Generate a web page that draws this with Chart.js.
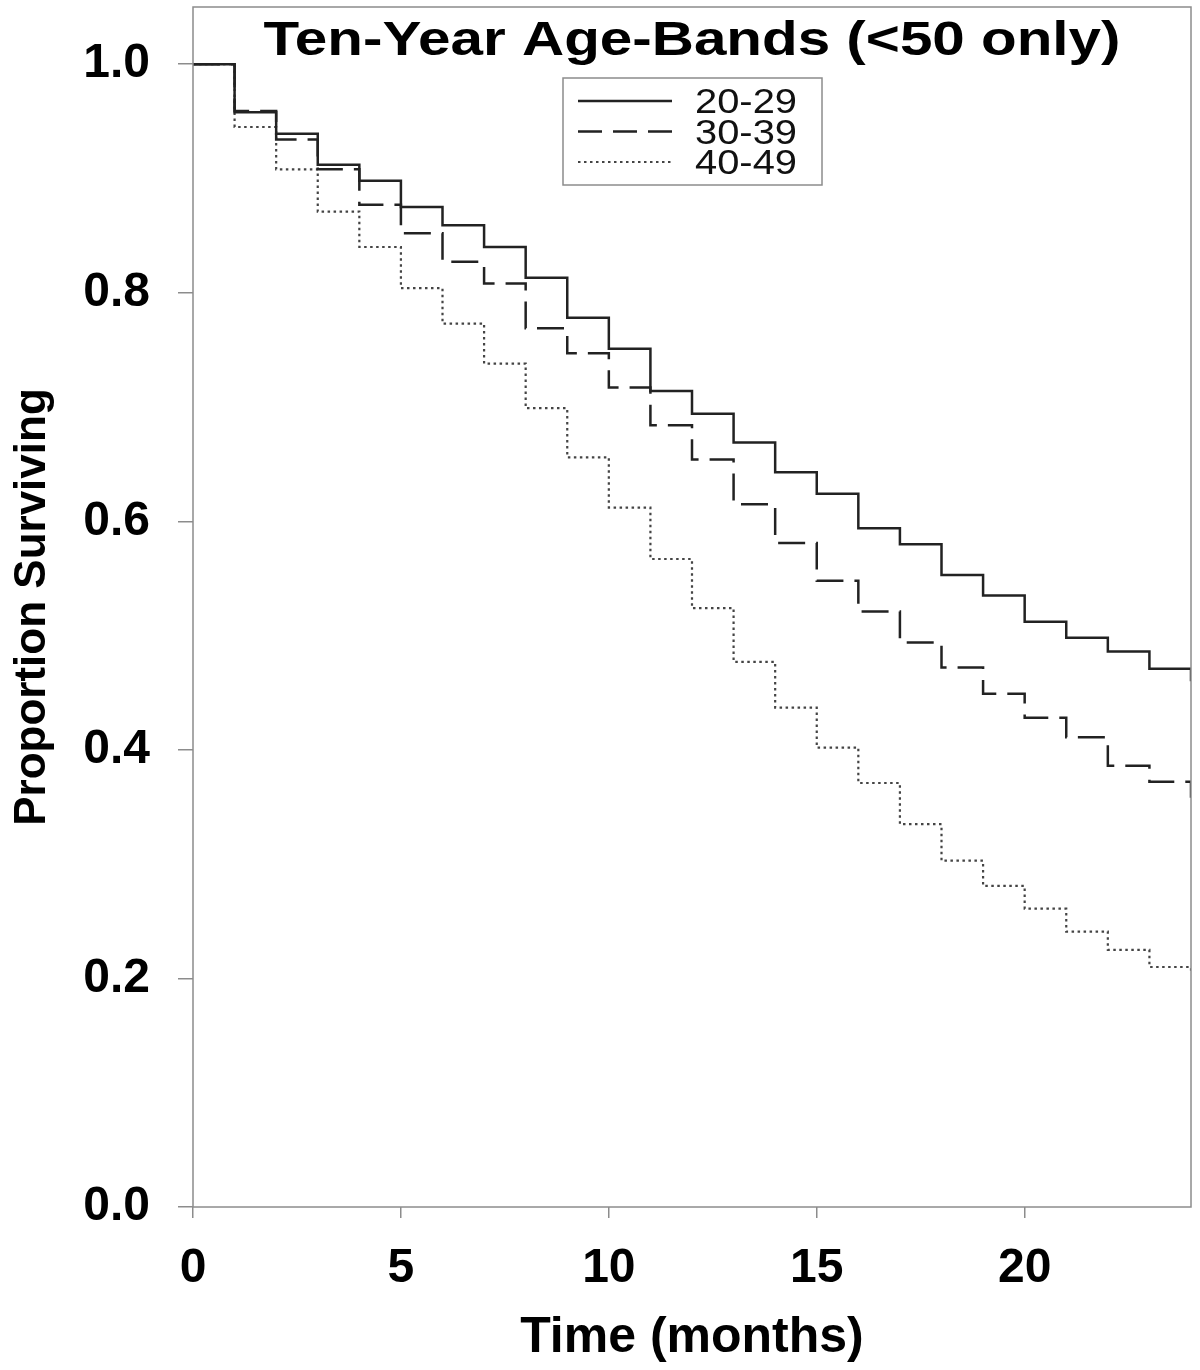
<!DOCTYPE html>
<html>
<head>
<meta charset="utf-8">
<script src="https://cdn.jsdelivr.net/npm/chart.js@4"></script>
<style>
  html, body { margin: 0; padding: 0; background: #fff; }
  #wrap { width: 1200px; height: 1370px; }
</style>
</head>
<body>
<div id="wrap"><canvas id="survChart" width="1200" height="1370"></canvas></div>
<script>
// months and survival proportions (value holds from that month on)
const months = [0, 1, 2, 3, 4, 5, 6, 7, 8, 9, 10, 11, 12, 13, 14, 15, 16, 17, 18, 19, 20, 21, 22, 23, 24];
const surv2029 = [1.0, 0.958, 0.939, 0.912, 0.898, 0.875, 0.859, 0.840, 0.813, 0.778, 0.751, 0.714, 0.694, 0.669, 0.643, 0.624, 0.594, 0.580, 0.553, 0.535, 0.512, 0.498, 0.486, 0.471, 0.460];
const surv3039 = [1.0, 0.959, 0.934, 0.908, 0.877, 0.852, 0.827, 0.808, 0.769, 0.747, 0.717, 0.684, 0.654, 0.615, 0.581, 0.548, 0.521, 0.494, 0.472, 0.449, 0.428, 0.411, 0.386, 0.372, 0.358];
const surv4049 = [1.0, 0.945, 0.908, 0.871, 0.840, 0.804, 0.773, 0.738, 0.699, 0.656, 0.612, 0.567, 0.524, 0.477, 0.437, 0.402, 0.371, 0.335, 0.303, 0.281, 0.261, 0.241, 0.225, 0.210, 0.204];
const groupLabels = ["20-29", "30-39", "40-49"];
const xTicks = [0, 5, 10, 15, 20];
const yTicks = [0.0, 0.2, 0.4, 0.6, 0.8, 1.0];

const FONT = '"Liberation Sans", Arial, sans-serif';
const frameColor = "#8c8c8c";

function toPoints(vals) {
  return months.map((m, i) => ({ x: m, y: vals[i] }));
}

// frame, title and legend drawn inside the plot box
const framePlugin = {
  id: "frameAndLegend",
  afterDatasetsDraw(chart) {
    const ctx = chart.ctx;
    const a = chart.chartArea;
    ctx.save();
    ctx.strokeStyle = frameColor;
    ctx.lineWidth = 1.5;
    ctx.strokeRect(a.left, a.top, a.right - a.left, a.bottom - a.top);

    // title (source picture is a bit wider than the font)
    const title = "Ten-Year Age-Bands (<50 only)";
    ctx.font = "bold 49px " + FONT;
    ctx.fillStyle = "#000";
    ctx.textBaseline = "alphabetic";
    ctx.textAlign = "center";
    const tw = ctx.measureText(title).width;
    const sx = 857 / tw;
    ctx.save();
    ctx.translate((a.left + a.right) / 2, a.top + 48);
    ctx.scale(sx, 1);
    ctx.fillText(title, 0, 0);
    ctx.restore();

    // legend box
    const lx = a.left + 370, ly = a.top + 71;
    ctx.strokeStyle = frameColor;
    ctx.lineWidth = 1.5;
    ctx.strokeRect(lx, ly, 259, 107);
    ctx.font = "35px " + FONT;
    ctx.textAlign = "left";
    const lsx = 102 / ctx.measureText("20-29").width;
    chart.data.datasets.forEach((ds, i) => {
      const rowY = ly + 23 + i * 30.5;
      ctx.save();
      ctx.strokeStyle = ds.borderColor;
      ctx.lineWidth = ds.borderWidth;
      ctx.setLineDash(ds.legendDash);
      ctx.beginPath();
      ctx.moveTo(lx + 15, rowY);
      ctx.lineTo(lx + 109, rowY);
      ctx.stroke();
      ctx.restore();
      ctx.save();
      ctx.fillStyle = "#111";
      ctx.translate(lx + 132, rowY + 12);
      ctx.scale(lsx, 1);
      ctx.fillText(ds.label, 0, 0);
      ctx.restore();
    });
    ctx.restore();
  }
};

new Chart(document.getElementById("survChart").getContext("2d"), {
  type: "line",
  data: {
    datasets: [
      {
        label: groupLabels[0],
        data: toPoints(surv2029),
        borderColor: "#222",
        borderWidth: 2.5,
        borderDash: [],
        legendDash: [],
        stepped: "before",
        pointRadius: 0,
        fill: false
      },
      {
        label: groupLabels[1],
        data: toPoints(surv3039),
        borderColor: "#222",
        borderWidth: 2.5,
        borderDash: [27, 11],
        legendDash: [24, 11],
        stepped: "before",
        pointRadius: 0,
        fill: false
      },
      {
        label: groupLabels[2],
        data: toPoints(surv4049),
        borderColor: "#444",
        borderWidth: 2.2,
        borderDash: [2.5, 3.5],
        legendDash: [2.5, 3.5],
        stepped: "before",
        pointRadius: 0,
        fill: false
      }
    ]
  },
  options: {
    responsive: false,
    animation: false,
    layout: { padding: { top: 7, right: 9, left: 0, bottom: 0 } },
    plugins: {
      legend: { display: false },
      tooltip: { enabled: false }
    },
    scales: {
      x: {
        type: "linear",
        min: 0,
        max: 24,
        afterBuildTicks: (scale) => { scale.ticks = xTicks.map(v => ({ value: v })); },
        afterFit: (scale) => { scale.height = 163; scale.paddingLeft = 0; scale.paddingRight = 0; },
        border: { display: false },
        grid: { drawOnChartArea: false, drawTicks: true, tickLength: 11, color: frameColor, lineWidth: 1.5 },
        ticks: {
          color: "#000",
          padding: 22,
          font: { family: FONT, size: 48, weight: "bold" },
          callback: (v) => String(v)
        },
        title: {
          display: true,
          text: "Time (months)",
          color: "#000",
          padding: { top: 0, bottom: 2 },
          font: { family: FONT, size: 50, weight: "bold" }
        }
      },
      y: {
        type: "linear",
        min: 0,
        max: 1.05,
        afterBuildTicks: (scale) => { scale.ticks = yTicks.map(v => ({ value: v })); },
        afterFit: (scale) => { scale.width = 193; scale.paddingTop = 0; scale.paddingBottom = 0; },
        border: { display: false },
        grid: { drawOnChartArea: false, drawTicks: true, tickLength: 15, color: frameColor, lineWidth: 1.5 },
        ticks: {
          color: "#000",
          padding: 28,
          font: { family: FONT, size: 48, weight: "bold" },
          callback: (v) => Number(v).toFixed(1)
        },
        title: {
          display: true,
          text: "Proportion Surviving",
          color: "#000",
          padding: { top: 6, bottom: 0 },
          font: { family: FONT, size: 44, weight: "bold" }
        }
      }
    }
  },
  plugins: [framePlugin]
});
</script>
</body>
</html>
